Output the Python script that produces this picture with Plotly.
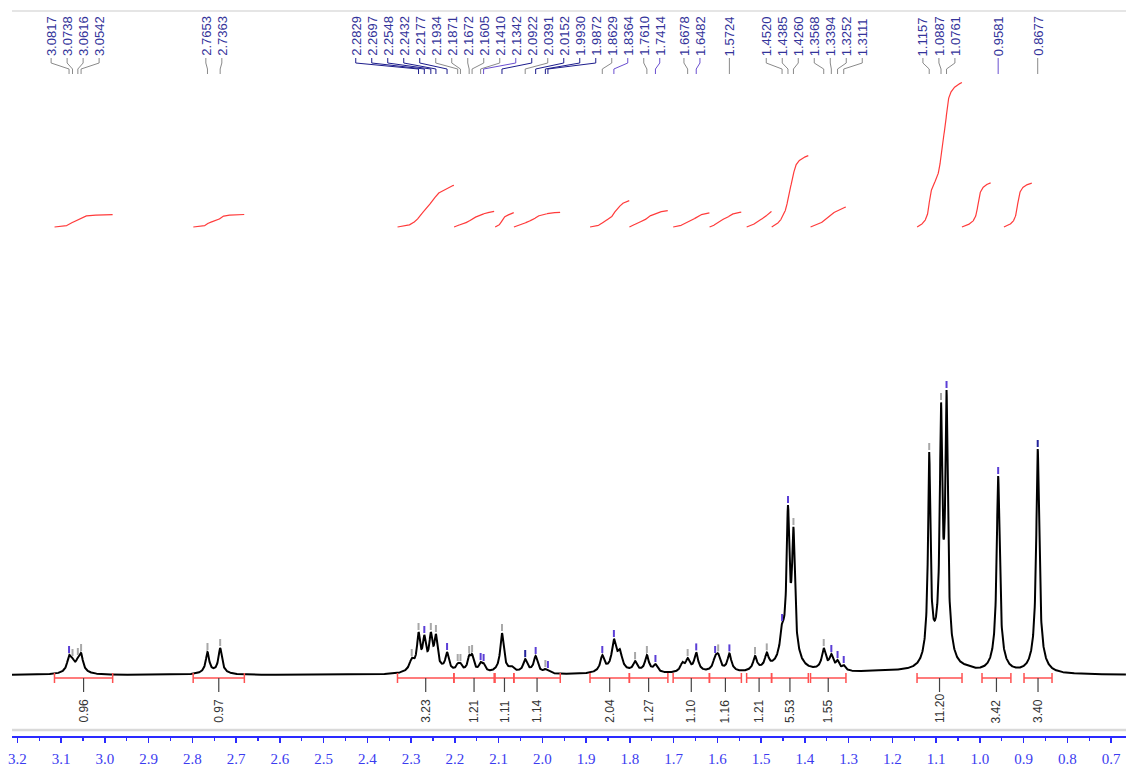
import numpy as np
import plotly.graph_objects as go

# ---------------- data ----------------
# labelled peaks (ppm), as printed along the top
label_ppm = [3.0817, 3.0738, 3.0616, 3.0542, 2.7653, 2.7363,
             2.2829, 2.2697, 2.2548, 2.2432, 2.2177, 2.1934, 2.1871, 2.1672, 2.1605, 2.1410, 2.1342,
             2.0922, 2.0391, 2.0152, 1.9930, 1.9872, 1.8629, 1.8364, 1.7610, 1.7414, 1.6678, 1.6482,
             1.5724, 1.4520, 1.4385, 1.4260, 1.3568, 1.3394, 1.3252, 1.3111, 1.1157, 1.0887, 1.0761,
             0.9581, 0.8677]
# picked but unlabelled peaks
extra_ppm = [2.2985, 1.7880, 1.6050, 1.5980, 1.5138, 1.4870]

# spectral lines: position (ppm), observed apex height (a.u.), half width (ppm)
line_ppm = [3.0817, 3.0738, 3.0616, 3.0542, 2.7653, 2.7363,
            2.2985, 2.2829, 2.2697, 2.2548, 2.2432, 2.2177, 2.1934, 2.1871, 2.1672, 2.1605, 2.1410, 2.1342,
            2.0922, 2.0700, 2.0391, 2.0152, 1.9930, 1.9872,
            1.8629, 1.8364, 1.8230, 1.7880, 1.7610, 1.7414, 1.6800, 1.6678, 1.6482,
            1.6050, 1.5980, 1.5724, 1.5138, 1.4870, 1.4520, 1.4385, 1.4260,
            1.3568, 1.3394, 1.3252, 1.3111, 1.1157, 1.0887, 1.0761, 1.0300, 0.9581, 0.8677]
line_apex = [20, 17, 18, 22, 23, 27,
             17, 43, 40, 43, 41, 23, 12, 12, 20, 21, 13, 12,
             42, 9, 16, 19, 6, 5,
             20, 36, 26, 14, 20, 11, 13, 17, 22.6,
             20, 21.6, 21.6, 19, 22.6, 52, 170, 148,
             27, 21, 15, 10, 223, 273, 285, 10, 199, 226]
line_hw = [0.0050, 0.0050, 0.0050, 0.0050, 0.0045, 0.0045,
           0.0060, 0.0040, 0.0040, 0.0040, 0.0040, 0.0045, 0.0040, 0.0040, 0.0040, 0.0040, 0.0040, 0.0040,
           0.0045, 0.0060, 0.0050, 0.0050, 0.0040, 0.0040,
           0.0050, 0.0055, 0.0060, 0.0050, 0.0050, 0.0050, 0.0050, 0.0050, 0.0050,
           0.0050, 0.0050, 0.0050, 0.0050, 0.0050, 0.0050, 0.0035, 0.0035,
           0.0050, 0.0050, 0.0040, 0.0040, 0.0030, 0.0030, 0.0030, 0.0150, 0.0037, 0.0037]

# broad background humps (under the big multiplets and the 1.3-1.15 ppm baseline)
hump_ppm = [1.09, 1.44, 1.22]
hump_height = [10, 10, 3]
hump_hw = [0.025, 0.025, 0.08]

# integration regions (ppm) and values
int_from = [3.115, 2.798, 2.331, 2.202, 2.108, 2.065, 1.891, 1.801, 1.701, 1.618, 1.533, 1.476, 1.387, 1.1435, 0.995, 0.899]
int_to = [2.982, 2.681, 2.202, 2.110, 2.065, 1.959, 1.801, 1.713, 1.618, 1.545, 1.476, 1.392, 1.306, 1.0407, 0.929, 0.835]
int_value = [0.96, 0.97, 3.23, 1.21, 1.11, 1.14, 2.04, 1.27, 1.10, 1.16, 1.21, 5.53, 1.55, 11.20, 3.42, 3.40]
# horizontal display offset (ppm) of each integral curve as drawn in the reference
int_curve_offset = [0, 0, 0, 0, 0, 0, 0, 0, 0, 0, 0, 0, 0, 0, 0.046, 0.046]

# marker colour groups
purple_marks = {3.0817, 2.2697, 2.2177, 2.1410, 2.1342, 2.0152, 1.9872, 1.8629, 1.8364, 1.7414, 1.6482,
                1.6050, 1.5724, 1.4520, 1.4385, 1.3394, 1.3252, 1.3111, 1.0761, 0.9581}
navy_marks = {2.0391, 0.8677}
purple_connectors = {2.1342, 1.8364, 1.7414, 1.6482, 0.9581}

# ---------------- layout constants ----------------
X_LEFT, X_RIGHT = 3.2121, 0.6659
PX_PER_PPM = 437.5
BROAD_W, BROAD_F = 0.12, 3.5


def shape(x, c, w):
    return (1 - BROAD_W) / (1 + ((x - c) / w) ** 2) + BROAD_W / (1 + ((x - c) / (BROAD_F * w)) ** 2)


def background(x):
    x = np.asarray(x, dtype=float)
    out = np.zeros_like(x)
    for c, h, w in zip(hump_ppm, hump_height, hump_hw):
        out += h / (1 + ((x - c) / w) ** 2)
    return out


lp = np.array(line_ppm)
lw = np.array(line_hw)
A = np.array([[shape(xi, cj, wj) for cj, wj in zip(lp, lw)] for xi in lp])
target = np.array(line_apex) - background(lp)
heights = np.clip(np.linalg.solve(A, target), 0, None)

x = np.arange(X_LEFT, X_RIGHT, -0.0004)


def spectrum(xx):
    xx = np.asarray(xx, dtype=float)
    s = background(xx)
    for c, h, w in zip(lp, heights, lw):
        s = s + h * shape(xx, c, w)
    return s


y = spectrum(x)

fig = go.Figure()
fig.add_trace(go.Scatter(x=x, y=y, mode="lines", line=dict(color="black", width=2), hoverinfo="skip"))

# ---- peak markers just above apices ----
mark_groups = {"#a8a8a8": ([], []), "#5b3fd6": ([], []), "#23239a": ([], [])}
for p in label_ppm + extra_ppm:
    col = "#23239a" if p in navy_marks else ("#5b3fd6" if p in purple_marks else "#a8a8a8")
    top = float(spectrum([p])[0])
    xs, ys = mark_groups[col]
    xs += [p, p, None]
    ys += [top + 2, top + 9, None]
for col, (xs, ys) in mark_groups.items():
    fig.add_trace(go.Scatter(x=xs, y=ys, mode="lines", line=dict(color=col, width=2), hoverinfo="skip"))

# ---- label placement (min spacing, centred clusters) ----
SPACING = 16.0 / PX_PER_PPM
order = sorted(label_ppm, reverse=True)
u = np.array([-p for p in order])
q = u - np.arange(len(u)) * SPACING
blocks = []
for i, v in enumerate(q):
    blocks.append([v, 1, [i]])
    while len(blocks) > 1 and blocks[-2][0] > blocks[-1][0]:
        b2 = blocks.pop()
        b1 = blocks.pop()
        n = b1[1] + b2[1]
        blocks.append([(b1[0] * b1[1] + b2[0] * b2[1]) / n, n, b1[2] + b2[2]])
qfit = np.zeros_like(q)
for v, n, idx in blocks:
    qfit[idx] = v
label_pos = -(qfit + np.arange(len(u)) * SPACING)

LABEL_BASE = 618  # data units (1 unit = 1 px)
conn = {"gray": ([], []), "purple": ([], []), "navy": ([], [])}
for p, lx in zip(order, label_pos):
    fig.add_annotation(x=lx, y=LABEL_BASE, text=f"{p:.4f}", textangle=-90, showarrow=False,
                       xanchor="center", yanchor="bottom", borderpad=0,
                       font=dict(family="Liberation Sans", size=13, color="#33339a"))
    shift_px = abs(lx - p) * PX_PER_PPM
    key = "purple" if p in purple_connectors else ("navy" if shift_px > 25 else "gray")
    xs, ys = conn[key]
    xs += [lx, lx, p, p, None]
    ys += [LABEL_BASE - 1, 612, 606, 601, None]
conn_cols = {"gray": "#8a8a8a", "purple": "#6a4fd0", "navy": "#1c1c8c"}
for key, (xs, ys) in conn.items():
    fig.add_trace(go.Scatter(x=xs, y=ys, mode="lines", line=dict(color=conn_cols[key], width=1),
                             hoverinfo="skip"))

# ---- integrals ----
INT_BASE = 448
INT_SCALE = 12.9
bar_x, bar_y, cap_x, cap_y, tk_x, tk_y = [], [], [], [], [], []
for a, b, v, off in zip(int_from, int_to, int_value, int_curve_offset):
    m = (x <= a) & (x >= b)
    cum = np.cumsum(y[m])
    cum = cum / cum[-1]
    fig.add_trace(go.Scatter(x=x[m] + off, y=INT_BASE + INT_SCALE * v * cum, mode="lines",
                             line=dict(color="#ff3b3b", width=1.2), hoverinfo="skip"))
    bar_x += [a, b, None]
    bar_y += [-3, -3, None]
    cap_x += [a, a, None, b, b, None]
    cap_y += [2, -8, None, 2, -8, None]
    c = (a + b) / 2
    tk_x += [c, c, None]
    tk_y += [-3, -17, None]
    fig.add_annotation(x=c, y=-49, text=f"{v:.2f}", textangle=-90, showarrow=False,
                       xanchor="center", yanchor="bottom", borderpad=0,
                       font=dict(family="Liberation Sans", size=12, color="#333333"))
fig.add_trace(go.Scatter(x=bar_x, y=bar_y, mode="lines", line=dict(color="#ff5050", width=1.5), hoverinfo="skip"))
fig.add_trace(go.Scatter(x=cap_x, y=cap_y, mode="lines", line=dict(color="#ff5050", width=1.5), hoverinfo="skip"))
fig.add_trace(go.Scatter(x=tk_x, y=tk_y, mode="lines", line=dict(color="#444444", width=1.2), hoverinfo="skip"))

# ---- frame lines ----
fig.add_shape(type="line", xref="paper", yref="paper", x0=0, x1=1, y0=1, y1=1,
              line=dict(color="#dddddd", width=1.5))
fig.add_shape(type="line", xref="paper", yref="y", x0=0, x1=1, y0=-55, y1=-55,
              line=dict(color="#d9d9d9", width=2.5))

blue = "#2b2bff"
fig.update_layout(
    width=1126, height=771, autosize=False,
    margin=dict(l=12, r=0, t=11, b=35),
    paper_bgcolor="white", plot_bgcolor="white", showlegend=False,
    xaxis=dict(range=[X_LEFT, X_RIGHT], tickmode="linear", tick0=0.7, dtick=0.1, tickformat=".1f",
               ticks="outside", ticklen=5, tickwidth=1.5, tickcolor=blue,
               showline=True, linecolor=blue, linewidth=1.5, showgrid=False, zeroline=False,
               ticklabelstandoff=3,
               tickfont=dict(family="Liberation Serif, Times New Roman, serif", size=15, color="#3b3bf0"),
               minor=dict(dtick=0.05, tick0=0.7, ticks="outside", ticklen=3, tickwidth=1.2,
                          tickcolor=blue, showgrid=False)),
    yaxis=dict(range=[-61, 664], visible=False, fixedrange=True),
)

fig.write_html("out.html", config={"displayModeBar": False, "staticPlot": True},
               post_script="document.body.style.margin='0px';document.body.style.overflow='hidden';")
